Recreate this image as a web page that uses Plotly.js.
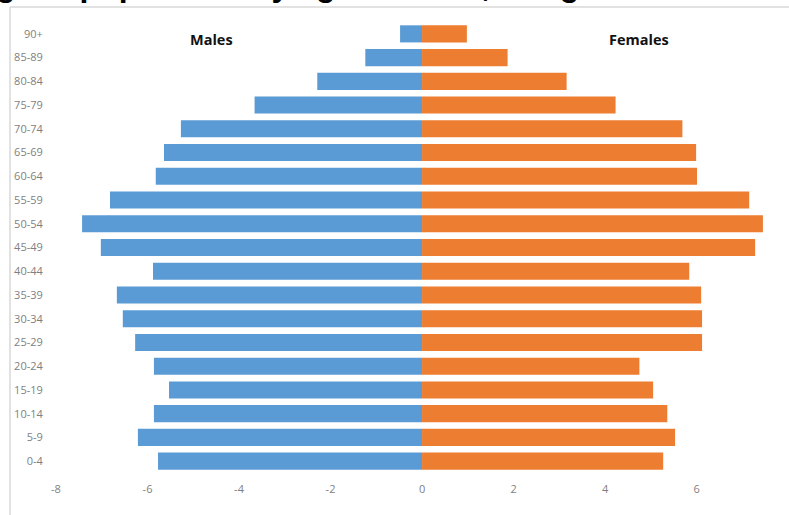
<!DOCTYPE html>
<html>
<head>
<meta charset="utf-8">
<script src="https://cdn.plot.ly/plotly-3.0.1.min.js"></script>
<style>
  html, body { margin: 0; padding: 0; background: #ffffff; }
  #chart { width: 789px; height: 515px; }
</style>
</head>
<body>
<div id="chart"></div>
<script>
const ageGroups = ["0-4","5-9","10-14","15-19","20-24","25-29","30-34","35-39","40-44","45-49",
                   "50-54","55-59","60-64","65-69","70-74","75-79","80-84","85-89","90+"];
const males   = [-5.77,-6.21,-5.86,-5.53,-5.86,-6.27,-6.54,-6.67,-5.88,-7.02,
                 -7.43,-6.82,-5.82,-5.64,-5.27,-3.66,-2.29,-1.24,-0.48];
const females = [5.27,5.53,5.36,5.05,4.75,6.12,6.12,6.10,5.84,7.28,
                 7.45,7.15,6.01,5.99,5.69,4.23,3.16,1.87,0.98];
const xTicks = [-8,-6,-4,-2,0,2,4,6,8];
const titleText = "Change in population by age and sex, Bangladesh";

const traces = [
  { type: "bar", orientation: "h", y: ageGroups, x: males, name: "Males",
    marker: { color: "#5B9BD5" }, hoverinfo: "skip" },
  { type: "bar", orientation: "h", y: ageGroups, x: females, name: "Females",
    marker: { color: "#ED7D31" }, hoverinfo: "skip" }
];

const layout = {
  width: 789, height: 515,
  margin: { l: 56, r: 0, t: 22, b: 42 },
  paper_bgcolor: "#ffffff", plot_bgcolor: "#ffffff",
  barmode: "relative", bargap: 0.28,
  showlegend: false,
  font: { family: "Open Sans, sans-serif", color: "#7f7f7f", size: 11 },
  xaxis: {
    range: [-8, 8.02], tickvals: xTicks, ticktext: xTicks.map(String),
    showgrid: false, zeroline: false, showline: false,
    ticks: "outside", ticklen: 6, tickcolor: "rgba(0,0,0,0)",
    tickfont: { family: "Open Sans, sans-serif", size: 11, color: "#7f7f7f" },
    fixedrange: true
  },
  yaxis: {
    type: "category", categoryorder: "array", categoryarray: ageGroups,
    range: [-0.5, 18.5],
    showgrid: false, zeroline: false, showline: false,
    ticks: "outside", ticklen: 10, tickcolor: "rgba(0,0,0,0)",
    tickfont: { family: "Open Sans, sans-serif", size: 11, color: "#7f7f7f" },
    fixedrange: true
  },
  shapes: [
    { type: "line", xref: "paper", yref: "paper",
      x0: (10 - 56) / 733, x1: 1.05, y0: (473 - 7) / 451, y1: (473 - 7) / 451,
      line: { color: "#d9d9d9", width: 1.5 } },
    { type: "line", xref: "paper", yref: "paper",
      x0: (10 - 56) / 733, x1: (10 - 56) / 733, y0: -0.2, y1: (473 - 7) / 451,
      line: { color: "#d9d9d9", width: 1.5 } }
  ],
  annotations: [
    { text: "<b>Males</b>", xref: "x", yref: "paper", x: -4.6, y: (473 - 39) / 451,
      xanchor: "center", yanchor: "middle", showarrow: false,
      font: { family: "Open Sans, sans-serif", size: 14.5, color: "#111111" } },
    { text: "<b>Females</b>", xref: "x", yref: "paper", x: 4.74, y: (473 - 39) / 451,
      xanchor: "center", yanchor: "middle", showarrow: false,
      font: { family: "Open Sans, sans-serif", size: 14.5, color: "#111111" } },
    { text: "<b>" + titleText + "</b>", xref: "paper", yref: "paper",
      x: (-86 - 56) / 733, y: (473 - 5) / 451, xanchor: "left", yanchor: "bottom",
      showarrow: false,
      font: { family: "Liberation Sans, Arial, sans-serif", size: 32, color: "#000000" } }
  ]
};

Plotly.newPlot("chart", traces, layout, { displayModeBar: false, staticPlot: true });
</script>
</body>
</html>
